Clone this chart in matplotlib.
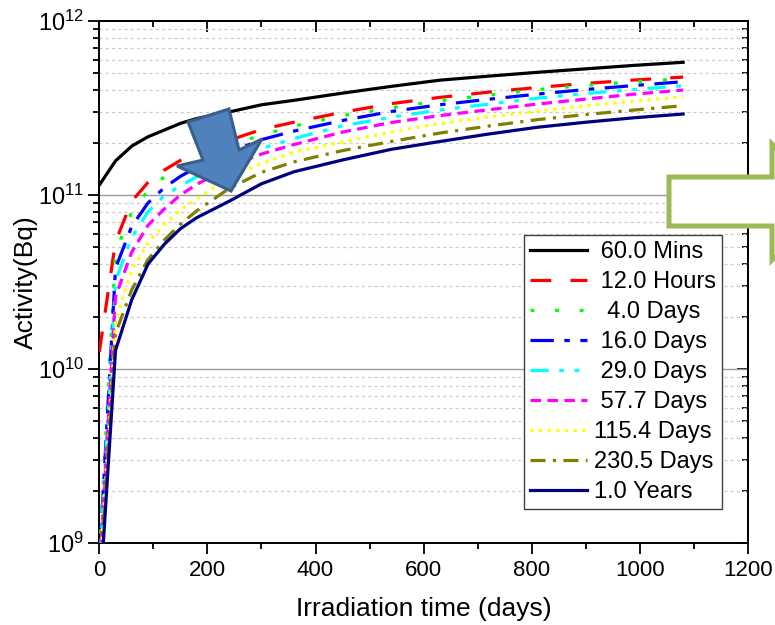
import matplotlib
matplotlib.use("Agg")
import matplotlib.pyplot as plt
import numpy as np
from matplotlib.patches import Polygon
from matplotlib.ticker import MultipleLocator, LogLocator, NullFormatter

plt.rcParams['font.family'] = ['Liberation Sans', 'DejaVu Sans']
plt.rcParams['mathtext.fontset'] = 'custom'
plt.rcParams['mathtext.rm'] = 'Liberation Sans'
plt.rcParams['mathtext.it'] = 'Liberation Sans:italic'
plt.rcParams['mathtext.bf'] = 'Liberation Sans:bold'

# ---------------- data (activity in units of 1e9 Bq) ----------------
t_days = [0, 30, 60, 90, 120, 150, 180, 240, 300, 360, 450, 540, 630, 720, 810, 900, 990, 1080]

act_60min = [114, 157, 191, 216, 236, 258, 275, 300, 330, 350, 385, 421, 457, 482, 507, 531, 556, 579]
act_12h = [12.5, 54, 92, 118, 139, 158, 175, 206, 238, 262, 299, 335, 364, 390, 415, 438, 458, 476]
act_4d = [0.82, 47, 80, 106, 127, 146, 163, 192, 221, 249, 286, 317, 348, 375, 403, 427, 448, 466]
act_16d = [0.77, 38, 66, 90, 110, 128, 144, 176, 208, 233, 268, 302, 330, 355, 380, 404, 426, 448]
act_29d = [0.68, 32, 57, 80, 99, 113, 127, 156, 185, 211, 250, 280, 308, 333, 360, 383, 404, 424]
act_57d = [0.65, 26, 47, 67, 83, 100, 115, 145, 172, 195, 230, 261, 286, 309, 333, 356, 380, 401]
act_115d = [0.59, 19, 37, 53, 68, 82, 95, 125, 152, 176, 202, 230, 258, 281, 303, 325, 346, 367]
act_230d = [0.54, 16, 28.5, 42.5, 55, 68, 81, 109, 135, 155, 180, 203, 227, 249, 271, 290, 308, 326]
act_1y = [0.43, 12.8, 25, 40, 52, 64, 74, 92, 116, 136, 159, 183, 203, 224, 245, 262, 278, 292]

labels = [" 60.0 Mins", " 12.0 Hours", "  4.0 Days", " 16.0 Days", " 29.0 Days",
          " 57.7 Days", "115.4 Days", "230.5 Days", "1.0 Years"]
series = [act_60min, act_12h, act_4d, act_16d, act_29d, act_57d, act_115d, act_230d, act_1y]
colors = ['#000000', '#FF0000', '#00FF00', '#0000FF', '#00FFFF', '#FF00FF', '#FFFF00', '#808000', '#000080']
styles = ['-', (0, (6.5, 6)), (0, (1.2, 6.5)), (0, (7.3, 3.3, 1.7, 3.3)),
          (0, (5.7, 3.3, 1.5, 3.3, 1.5, 3.3)), (0, (3.3, 2)), (0, (1, 1.7)),
          (0, (4.7, 2.3, 1, 2.3)), '-']

W, H = 775, 625
fig = plt.figure(figsize=(W / 100, H / 100), dpi=100)
L, R, T, B = 99.3, 748, 21, 543
ax = fig.add_axes([L / W, 1 - B / H, (R - L) / W, (B - T) / H])
ax.set_yscale('log')
ax.set_xlim(0, 1200)
ax.set_ylim(1e9, 1e12)

# grid
for v in [1e10, 1e11]:
    ax.axhline(v, color='#9a9a9a', lw=1.0, zorder=1)
for dec in [1e9, 1e10, 1e11]:
    for k in range(2, 10):
        ax.axhline(dec * k, color='#cccccc', lw=0.9, ls=(0, (2.5, 2.5)), zorder=1)

t = np.array(t_days, dtype=float)
for vals, lab, c, s in zip(series, labels, colors, styles):
    ax.plot(t, np.array(vals) * 1e9, color=c, ls=s, lw=2.3, label=lab, zorder=3,
            dash_capstyle='butt')

# ticks
ax.xaxis.set_major_locator(MultipleLocator(200))
ax.xaxis.set_minor_locator(MultipleLocator(100))
ax.yaxis.set_major_locator(LogLocator(base=10, numticks=10))
ax.yaxis.set_minor_locator(LogLocator(base=10, subs=np.arange(2, 10), numticks=20))
ax.yaxis.set_minor_formatter(NullFormatter())
ax.tick_params(which='both', direction='out', width=1.3, colors='black')
ax.tick_params(which='major', length=8)
ax.tick_params(which='minor', length=4.5)
ax.tick_params(axis='x', labelsize=16, pad=4)
ax.tick_params(axis='y', labelsize=17, pad=3)
for sp in ax.spines.values():
    sp.set_linewidth(1.4)
    sp.set_color('black')

top = ax.secondary_xaxis('top')
top.xaxis.set_major_locator(MultipleLocator(200))
top.xaxis.set_minor_locator(MultipleLocator(100))
top.xaxis.set_major_formatter(NullFormatter())
top.tick_params(which='both', direction='in', width=1.3)
top.tick_params(which='major', length=8)
top.tick_params(which='minor', length=4.5)
top.spines['top'].set_linewidth(1.4)

right = ax.secondary_yaxis('right')
right.yaxis.set_major_locator(LogLocator(base=10, numticks=10))
right.yaxis.set_minor_locator(LogLocator(base=10, subs=np.arange(2, 10), numticks=20))
right.yaxis.set_major_formatter(NullFormatter())
right.yaxis.set_minor_formatter(NullFormatter())
right.tick_params(which='both', direction='in', width=1.3)
right.tick_params(which='major', length=8)
right.tick_params(which='minor', length=4.5)
right.spines['right'].set_linewidth(1.4)

ax.set_xlabel('Irradiation time (days)', fontsize=19, labelpad=12)
ax.set_ylabel('Activity(Bq)', fontsize=19)
ax.yaxis.set_label_coords(-0.094, 0.5)

leg = ax.legend(loc='upper left', bbox_to_anchor=((524 - L) / (R - L), (B - 235) / (B - T)),
                borderaxespad=0, fontsize=17, handlelength=2.4, handletextpad=0.3,
                labelspacing=0.34, borderpad=0.25, fancybox=False, framealpha=1,
                edgecolor='#404040')
leg.get_frame().set_linewidth(1.0)
leg.set_zorder(5)


def px(pts):
    return [(x / W, 1 - y / H) for x, y in pts]


blue_arrow = [(188, 122), (229, 109), (239, 150), (262, 139), (231, 191), (177, 166), (203, 160)]
fig.add_artist(Polygon(px(blue_arrow), closed=True, facecolor='#4F81BD', edgecolor='#3A5F8C',
                       lw=2.2, transform=fig.transFigure, zorder=10))

green_arrow = [(669, 177), (772, 177), (772, 144), (832, 202), (772, 260), (772, 226), (669, 226)]
fig.add_artist(Polygon(px(green_arrow), closed=True, facecolor='white', edgecolor='#9BBB59',
                       lw=3.6, transform=fig.transFigure, zorder=10, joinstyle='miter'))

fig.savefig('out.png', dpi=100)
